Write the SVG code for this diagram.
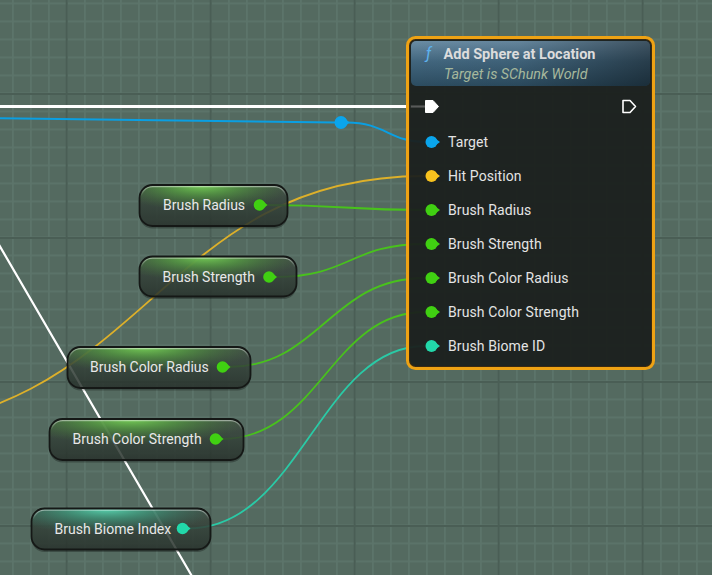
<svg xmlns="http://www.w3.org/2000/svg" width="712" height="575" viewBox="0 0 712 575">
<defs>
<pattern id="minor" patternUnits="userSpaceOnUse" x="12" y="2.5" width="18" height="18">
<rect x="0" y="0" width="1.8" height="18" fill="#5c746a"/>
<rect x="0" y="0" width="18" height="1.8" fill="#5c746a"/>
</pattern>
<pattern id="major" patternUnits="userSpaceOnUse" x="65.7" y="93" width="144" height="144">
<rect x="0" y="0" width="2" height="144" fill="#4a5e55"/>
<rect x="0" y="0" width="144" height="2" fill="#4a5e55"/>
</pattern>
<linearGradient id="vbase" x1="0" y1="0" x2="0" y2="1">
<stop offset="0" stop-color="#465249"/>
<stop offset="0.5" stop-color="#36443b"/>
<stop offset="1" stop-color="#2a342e"/>
</linearGradient>
<radialGradient id="gGlow" cx="0.42" cy="0.0" r="0.62">
<stop offset="0" stop-color="#78d058" stop-opacity="1"/>
<stop offset="0.4" stop-color="#58a842" stop-opacity="0.65"/>
<stop offset="1" stop-color="#3f7a34" stop-opacity="0"/>
</radialGradient>
<radialGradient id="tGlow" cx="0.42" cy="0.0" r="0.62">
<stop offset="0" stop-color="#5ad6b2" stop-opacity="1"/>
<stop offset="0.4" stop-color="#40a888" stop-opacity="0.65"/>
<stop offset="1" stop-color="#2f7a66" stop-opacity="0"/>
</radialGradient>
<linearGradient id="vhi" x1="0" y1="0" x2="0" y2="1">
<stop offset="0" stop-color="#ffffff" stop-opacity="0.45"/>
<stop offset="0.25" stop-color="#ffffff" stop-opacity="0"/>
</linearGradient>
<linearGradient id="hdr" x1="0" y1="0" x2="0" y2="1">
<stop offset="0" stop-color="#6a8ca4"/>
<stop offset="0.45" stop-color="#42667e"/>
<stop offset="1" stop-color="#2c4c60"/>
</linearGradient>
<linearGradient id="hdrShade" x1="0" y1="0" x2="1" y2="0">
<stop offset="0" stop-color="#000" stop-opacity="0"/>
<stop offset="0.45" stop-color="#000" stop-opacity="0.05"/>
<stop offset="1" stop-color="#000" stop-opacity="0.4"/>
</linearGradient>
<clipPath id="hdrClip"><rect x="411" y="41" width="239" height="45" rx="5"/></clipPath>
</defs>
<style>
text{font-family:Roboto,"Liberation Sans",sans-serif;}
.vl{font-size:14px;fill:#e8e8e8;}
.pl{font-size:14px;fill:#e4e4e4;letter-spacing:0.1px;}
.vshadow{fill:#000;opacity:0.28;}
.vbody{fill:url(#vbase);fill-opacity:0.8;}
.vhi{fill:none;stroke:url(#vhi);stroke-width:1.5;}
.vborder{fill:none;stroke:#151816;stroke-width:1.8;}
.w{fill:none;stroke-linecap:round;}
.wg{stroke:#48c21c;stroke-width:1.8;}
.pg{fill:#40d012;}
.pt{fill:#22d8aa;}
.pb{fill:#0aa5ec;}
.py{fill:#f8c21e;}
</style>
<rect width="712" height="575" fill="#546a60"/>
<rect width="712" height="575" fill="url(#minor)"/>
<rect width="712" height="575" fill="url(#major)"/>

<g id="connectors">
<path class="w" d="M -30 195 Q 70 365 200 590" stroke="#ffffff" stroke-width="2.2"/>
<path class="w" d="M 0 106.5 L 425 106.5" stroke="#ffffff" stroke-width="3"/>
<path class="w" d="M 0 118.3 L 336 122.5" stroke="#0a9fe2" stroke-width="2"/>
<path class="w" d="M 347 122.5 C 385 122.5, 390 142, 425 142" stroke="#0a9fe2" stroke-width="2"/>
<path class="w" d="M -150 430 C 150 430, 150 176, 425 176" stroke="#ddb02a" stroke-width="1.8"/>
<path class="w wg" d="M 265 205 C 345 205, 345 210, 425 210"/>
<path class="w wg" d="M 275 277 C 350 277, 350 244, 425 244"/>
<path class="w wg" d="M 228 367 C 320 367, 330 278, 425 278"/>
<path class="w wg" d="M 221 439 C 320 439, 330 312, 425 312"/>
<path class="w" d="M 188 528.5 C 300 528.5, 320 346, 425 346" stroke="#2acaa6" stroke-width="1.8"/>
<g id="reroute">
<circle cx="341" cy="122.5" r="6.5" fill="#0aa5ec"/>
<path d="M 346 119.5 L 349.5 122.5 L 346 125.5 Z" fill="#0aa5ec"/>
</g>
</g>

<g id="node-brush-radius">
<rect class="vshadow" x="139.5" y="187.5" width="148" height="41" rx="13"/>
<rect class="vbody" x="139.5" y="185" width="148" height="41" rx="13"/>
<rect x="139.5" y="185" width="148" height="41" rx="13" fill="url(#gGlow)"/>
<rect class="vhi" x="141" y="186.5" width="145" height="38" rx="11.5"/>
<rect class="vborder" x="139.5" y="185" width="148" height="41" rx="13"/>
<text class="vl" x="163" y="210">Brush Radius</text>
<circle class="pg" cx="259.5" cy="205" r="5.8"/>
<path class="pg" d="M 264 202 L 267.5 205 L 264 208 Z"/>
</g>

<g id="node-brush-strength">
<rect class="vshadow" x="139.5" y="259" width="157" height="40" rx="13"/>
<rect class="vbody" x="139.5" y="256.5" width="157" height="40" rx="13"/>
<rect x="139.5" y="256.5" width="157" height="40" rx="13" fill="url(#gGlow)"/>
<rect class="vhi" x="141" y="258" width="154" height="37" rx="11.5"/>
<rect class="vborder" x="139.5" y="256.5" width="157" height="40" rx="13"/>
<text class="vl" x="162.5" y="282">Brush Strength</text>
<circle class="pg" cx="269" cy="277" r="5.8"/>
<path class="pg" d="M 273.5 274 L 277 277 L 273.5 280 Z"/>
</g>

<g id="node-brush-color-radius">
<rect class="vshadow" x="67.5" y="349.5" width="183" height="41" rx="13"/>
<rect class="vbody" x="67.5" y="347" width="183" height="41" rx="13"/>
<rect x="67.5" y="347" width="183" height="41" rx="13" fill="url(#gGlow)"/>
<rect class="vhi" x="69" y="348.5" width="180" height="38" rx="11.5"/>
<rect class="vborder" x="67.5" y="347" width="183" height="41" rx="13"/>
<text class="vl" x="90" y="372">Brush Color Radius</text>
<circle class="pg" cx="222.5" cy="367" r="5.8"/>
<path class="pg" d="M 227 364 L 230.5 367 L 227 370 Z"/>
</g>

<g id="node-brush-color-strength">
<rect class="vshadow" x="49.5" y="421.5" width="194" height="41" rx="13"/>
<rect class="vbody" x="49.5" y="419" width="194" height="41" rx="13"/>
<rect x="49.5" y="419" width="194" height="41" rx="13" fill="url(#gGlow)"/>
<rect class="vhi" x="51" y="420.5" width="191" height="38" rx="11.5"/>
<rect class="vborder" x="49.5" y="419" width="194" height="41" rx="13"/>
<text class="vl" x="72.5" y="444">Brush Color Strength</text>
<circle class="pg" cx="215.5" cy="439" r="5.8"/>
<path class="pg" d="M 220 436 L 223.5 439 L 220 442 Z"/>
</g>

<g id="node-brush-biome-index">
<rect class="vshadow" x="31.5" y="511" width="179" height="41" rx="13"/>
<rect class="vbody" x="31.5" y="508.5" width="179" height="41" rx="13"/>
<rect x="31.5" y="508.5" width="179" height="41" rx="13" fill="url(#tGlow)"/>
<rect class="vhi" x="33" y="510" width="176" height="38" rx="11.5"/>
<rect class="vborder" x="31.5" y="508.5" width="179" height="41" rx="13"/>
<text class="vl" x="54.5" y="533.5">Brush Biome Index</text>
<circle class="pt" cx="182.5" cy="528.5" r="5.8"/>
<path class="pt" d="M 187 525.5 L 190.5 528.5 L 187 531.5 Z"/>
</g>

<g id="node-add-sphere">
<rect x="409" y="39" width="243" height="328" rx="7" fill="#1b201e" fill-opacity="0.95" stroke="#3a2a12" stroke-width="2"/>
<g clip-path="url(#hdrClip)">
<rect x="411" y="41" width="239" height="45" fill="url(#hdr)"/>
<rect x="411" y="41" width="239" height="45" fill="url(#hdrShade)"/>
</g>
<rect x="407.5" y="37.5" width="246" height="331" rx="8" fill="none" stroke="#eea214" stroke-width="3"/>
<text x="426" y="59" font-size="16" font-style="italic" fill="#5eb2ee" font-family="'Liberation Serif',serif">ƒ</text>
<text x="443.5" y="59" font-size="14.5" font-weight="bold" fill="#dcdcdc">Add Sphere at Location</text>
<text x="444" y="79" font-size="14.3" font-style="italic" fill="#a6b89c">Target is SChunk World</text>
<line x1="411" y1="106.5" x2="425" y2="106.5" stroke="#8a8a8a" stroke-width="2" opacity="0.5"/>
<path d="M 425.5 100.5 L 433 100.5 L 438.5 106.5 L 433 112.5 L 425.5 112.5 Z" fill="#ffffff" stroke="#ffffff" stroke-width="1" stroke-linejoin="round"/>
<path d="M 623 100.5 L 630 100.5 L 635.5 106.5 L 630 112.5 L 623 112.5 Z" fill="none" stroke="#ffffff" stroke-width="1.6" stroke-linejoin="round"/>
<circle class="pb" cx="431.5" cy="142" r="6"/>
<path class="pb" d="M 436 139 L 440 142 L 436 145 Z"/>
<text class="pl" x="448" y="147">Target</text>
<circle class="py" cx="431.5" cy="176" r="6"/>
<path class="py" d="M 436 173 L 440 176 L 436 179 Z"/>
<text class="pl" x="448" y="181">Hit Position</text>
<circle class="pg" cx="431.5" cy="210" r="6"/>
<path class="pg" d="M 436 207 L 440 210 L 436 213 Z"/>
<text class="pl" x="448" y="215">Brush Radius</text>
<circle class="pg" cx="431.5" cy="244" r="6"/>
<path class="pg" d="M 436 241 L 440 244 L 436 247 Z"/>
<text class="pl" x="448" y="249">Brush Strength</text>
<circle class="pg" cx="431.5" cy="278" r="6"/>
<path class="pg" d="M 436 275 L 440 278 L 436 281 Z"/>
<text class="pl" x="448" y="283">Brush Color Radius</text>
<circle class="pg" cx="431.5" cy="312" r="6"/>
<path class="pg" d="M 436 309 L 440 312 L 436 315 Z"/>
<text class="pl" x="448" y="317">Brush Color Strength</text>
<circle class="pt" cx="431.5" cy="346" r="6"/>
<path class="pt" d="M 436 343 L 440 346 L 436 349 Z"/>
<text class="pl" x="448" y="351">Brush Biome ID</text>
</g>
</svg>
